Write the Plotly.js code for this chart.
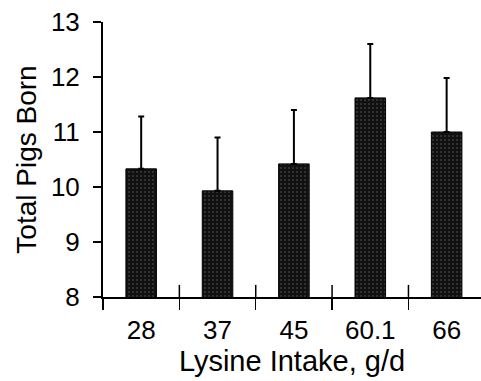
<!DOCTYPE html>
<html><head><meta charset="utf-8">
<script src="https://cdn.plot.ly/plotly-3.0.1.min.js"></script>
<style>html,body{margin:0;padding:0;background:#fff}#chart{width:481px;height:381px}</style>
</head><body><div id="chart"></div>
<script>
const categories = ["28", "37", "45", "60.1", "66"];
const totalPigsBorn = [10.33, 9.93, 10.42, 11.62, 11.0];
const errorUpper = [0.95, 0.97, 0.98, 0.98, 0.98];
const yTickValues = [8, 9, 10, 11, 12, 13];

const font = "Liberation Sans, Arial, sans-serif";
const trace = {
  type: "bar",
  x: categories,
  y: totalPigsBorn,
  width: 0.4,
  marker: {color: "#1e1e1e", line: {color: "#000", width: 1},
           pattern: {shape: ".", fgcolor: "#5a5a5a", bgcolor: "#111", size: 4, solidity: 0.12}},
  error_y: {type: "data", symmetric: false, array: errorUpper, arrayminus: categories.map(() => 0),
            color: "#000", thickness: 2, width: 3},
  hoverinfo: "none"
};
const shapes = [];
for (let i = 0; i < categories.length - 1; i++) {
  shapes.push({type: "line", xref: "x", yref: "y", x0: i + 0.5, x1: i + 0.5, y0: 8, y1: 8.22,
               line: {color: "#000", width: 1.5}});
}
shapes.push({type: "line", xref: "paper", yref: "paper", x0: 0, x1: 0, y0: 0, y1: -0.04,
             line: {color: "#000", width: 2}});
const layout = {
  width: 481, height: 381,
  margin: {l: 103, r: 0, t: 22, b: 84},
  paper_bgcolor: "#fff", plot_bgcolor: "#fff",
  showlegend: false,
  font: {family: font, color: "#000", size: 26},
  xaxis: {
    type: "category", range: [-0.5, 4.45], automargin: false,
    showline: true, linecolor: "#000", linewidth: 2,
    ticks: "outside", tickson: "boundaries", ticklen: 11, tickwidth: 1.5, tickcolor: "#000",
    showgrid: false, zeroline: false, ticklabelstandoff: 9,
    tickfont: {size: 26, family: font},
    title: {text: "Lysine Intake, g/d", font: {size: 29, family: font}, standoff: 3}
  },
  yaxis: {
    range: [8, 13], tickvals: yTickValues, automargin: false,
    showline: true, linecolor: "#000", linewidth: 2,
    ticks: "outside", ticklen: 8, tickwidth: 1.5, tickcolor: "#000",
    showgrid: false, zeroline: false, ticklabelstandoff: 8,
    tickfont: {size: 26, family: font},
    title: {text: "Total Pigs Born", font: {size: 28, family: font}, standoff: 6}
  },
  shapes: shapes
};
Plotly.newPlot("chart", [trace], layout, {staticPlot: true, displayModeBar: false});
</script></body></html>
